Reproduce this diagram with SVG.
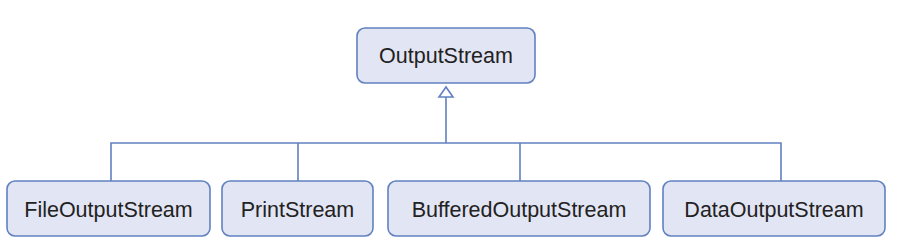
<svg xmlns="http://www.w3.org/2000/svg" width="898" height="248" viewBox="0 0 898 248">
<style>
.box{fill:#e2e5f3;stroke:#6281c0;stroke-width:1.6}
.lbl{font-family:"Liberation Sans",Arial,sans-serif;font-size:21.5px;fill:#222;text-anchor:middle}
.con{fill:none;stroke:#6281c0;stroke-width:1.6}
</style>
<rect width="898" height="248" fill="#fff"/>
<g id="connectors">
<path class="con" d="M446 97V143M111 181V143H781V181M298 143V181M520 143V181"/>
<polygon points="446,87 439,97 453,97" fill="#fff" stroke="#6281c0" stroke-width="1.6"/>
</g>
<g id="OutputStream"><rect class="box" x="357" y="28" width="178" height="55" rx="8"/><text class="lbl" x="446" y="63">OutputStream</text></g>
<g id="FileOutputStream"><rect class="box" x="7" y="181" width="203" height="55" rx="8"/><text class="lbl" x="108.5" y="216.5">FileOutputStream</text></g>
<g id="PrintStream"><rect class="box" x="222" y="181" width="151" height="55" rx="8"/><text class="lbl" x="297.5" y="216.5">PrintStream</text></g>
<g id="BufferedOutputStream"><rect class="box" x="388" y="181" width="262" height="55" rx="8"/><text class="lbl" x="519" y="216.5">BufferedOutputStream</text></g>
<g id="DataOutputStream"><rect class="box" x="663" y="181" width="222" height="55" rx="8"/><text class="lbl" x="774" y="216.5">DataOutputStream</text></g>
</svg>
